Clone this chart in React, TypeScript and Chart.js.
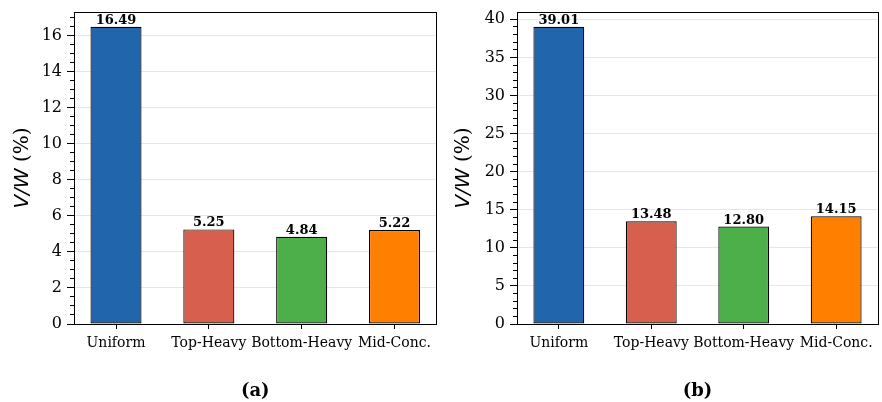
import React, { useEffect, useRef } from "react";
import { Chart, registerables } from "chart.js";
Chart.register(...registerables);

const categories = ["Uniform", "Top-Heavy", "Bottom-Heavy", "Mid-Conc."];
const valuesA = [16.49, 5.25, 4.84, 5.22];
const valuesB = [39.01, 13.48, 12.8, 14.15];
const ticksA = [0, 2, 4, 6, 8, 10, 12, 14, 16];
const ticksB = [0, 5, 10, 15, 20, 25, 30, 35, 40];
const minorStepA = 0.5;
const minorStepB = 1;
const barColors = ["#2166ac", "#d6604d", "#4daf4a", "#ff7f00"];
const panelLabels = ["(a)", "(b)"];

const SERIF = "'DejaVu Serif', serif";
const BAR_W = 0.55;

const decorPlugin = {
  id: "decor",
  afterDatasetsDraw(chart: any) {
    const { ctx } = chart;
    const meta = chart.getDatasetMeta(0);
    ctx.save();
    ctx.fillStyle = "#000";
    ctx.font = `bold 13px ${SERIF}`;
    ctx.textAlign = "center";
    ctx.textBaseline = "alphabetic";
    meta.data.forEach((el: any, i: number) => {
      const v = chart.data.datasets[0].data[i].y as number;
      ctx.fillText(v.toFixed(2), el.x, el.y - 3);
    });
    ctx.restore();
  },
  afterDraw(chart: any) {
    const { ctx, chartArea: ca } = chart;
    const opts = chart.options.plugins.decor;
    const ys = chart.scales.y;
    ctx.save();
    ctx.strokeStyle = "#000";
    ctx.lineWidth = 1;
    const major = opts.majorStep;
    const minor = opts.minorStep;
    const lx = Math.floor(ca.left);
    for (let k = 0; k * minor <= ys.max + 1e-9; k++) {
      const v = k * minor;
      const r = v / major;
      if (Math.abs(r - Math.round(r)) < 1e-6) continue;
      const py = Math.floor(ys.getPixelForValue(v)) + 0.5;
      ctx.beginPath();
      ctx.moveTo(lx - 4, py);
      ctx.lineTo(lx, py);
      ctx.stroke();
    }
    const x0 = Math.floor(ca.left) + 0.5;
    const y0 = Math.floor(ca.top) + 0.5;
    const x1 = Math.floor(ca.right) + 0.5;
    const y1 = Math.floor(ca.bottom) + 0.5;
    ctx.strokeRect(x0, y0, x1 - x0, y1 - y0);
    const cy = (ca.top + ca.bottom) / 2;
    ctx.translate(opts.titleX, cy);
    ctx.rotate(-Math.PI / 2);
    const f1 = `italic 20px 'DejaVu Sans', sans-serif`;
    const f2 = `20px ${SERIF}`;
    const t1 = "V/W";
    const t2 = " (%)";
    ctx.font = f1;
    const w1 = ctx.measureText(t1).width;
    ctx.font = f2;
    const w2 = ctx.measureText(t2).width;
    const start = -(w1 + w2) / 2;
    ctx.textBaseline = "middle";
    ctx.textAlign = "left";
    ctx.fillStyle = "#000";
    ctx.font = f1;
    ctx.fillText(t1, start, 0);
    ctx.font = f2;
    ctx.fillText(t2, start + w1, 0);
    ctx.restore();
  },
};

function Panel(props: {
  values: number[];
  ticks: number[];
  minorStep: number;
  label: string;
  yWidth: number;
  rightPad: number;
}) {
  const ref = useRef<HTMLCanvasElement | null>(null);
  useEffect(() => {
    const { values, ticks, minorStep, label, yWidth, rightPad } = props;
    const n = categories.length;
    const pad = (n - 1 + BAR_W) * 0.05;
    const xmin = -BAR_W / 2 - pad;
    const xmax = n - 1 + BAR_W / 2 + pad;
    const chart = new Chart(ref.current as HTMLCanvasElement, {
      type: "bar",
      data: {
        datasets: [
          {
            data: values.map((v, i) => ({ x: i, y: v })) as any,
            backgroundColor: barColors,
            borderColor: "#000",
            borderWidth: 1.2,
            borderSkipped: false,
            categoryPercentage: 1,
            barPercentage: BAR_W,
          },
        ],
      },
      options: {
        responsive: false,
        animation: false,
        layout: { padding: { top: 12, right: rightPad, left: 0, bottom: 0 } },
        plugins: {
          legend: { display: false },
          tooltip: { enabled: false },
          decor: { majorStep: ticks[1] - ticks[0], minorStep, titleX: 23 },
        } as any,
        scales: {
          x: {
            type: "linear",
            offset: false,
            min: xmin,
            max: xmax,
            afterBuildTicks: (s: any) => {
              s.ticks = categories.map((_, i) => ({ value: i }));
            },
            ticks: {
              callback: (v: any) => categories[v as number] ?? "",
              font: { family: SERIF, size: 14 },
              color: "#000",
              padding: 6,
              maxRotation: 0,
              autoSkip: false,
            },
            grid: {
              drawOnChartArea: false,
              tickLength: 5,
              tickColor: "#000",
              tickWidth: 1,
              offset: false,
            },
            border: { display: false },
            title: {
              display: true,
              text: label,
              font: { family: SERIF, size: 18, weight: "bold" },
              color: "#000",
              padding: { top: 0, bottom: 0 },
            },
            afterFit: (s: any) => {
              s.height = 78;
              s.paddingLeft = 0;
              s.paddingRight = 0;
            },
          },
          y: {
            min: 0,
            max: Math.max(...values) * 1.05,
            afterBuildTicks: (s: any) => {
              s.ticks = ticks.map((v) => ({ value: v }));
            },
            ticks: {
              font: { family: SERIF, size: 16 },
              color: "#000",
              padding: 5,
              callback: (v: any) => String(v),
            },
            grid: {
              color: "#e6e6e6",
              lineWidth: 1,
              tickLength: 7,
              tickColor: "#000",
              tickWidth: 1,
            },
            border: { display: false },
            afterFit: (s: any) => {
              s.width = yWidth;
              s.paddingTop = 0;
              s.paddingBottom = 0;
            },
          },
        } as any,
      },
      plugins: [decorPlugin as any],
    });
    return () => chart.destroy();
  }, []);
  return <canvas ref={ref} width={441} height={402} style={{ display: "block", width: 441, height: 402 }} />;
}

export default function App() {
  return (
    <div
      style={{
        position: "absolute",
        left: 0,
        top: 0,
        width: 882,
        height: 402,
        display: "flex",
        background: "#fff",
      }}
    >
      <Panel values={valuesA} ticks={ticksA} minorStep={minorStepA} label={panelLabels[0]} yWidth={74} rightPad={4.5} />
      <Panel values={valuesB} ticks={ticksB} minorStep={minorStepB} label={panelLabels[1]} yWidth={76} rightPad={4} />
    </div>
  );
}
